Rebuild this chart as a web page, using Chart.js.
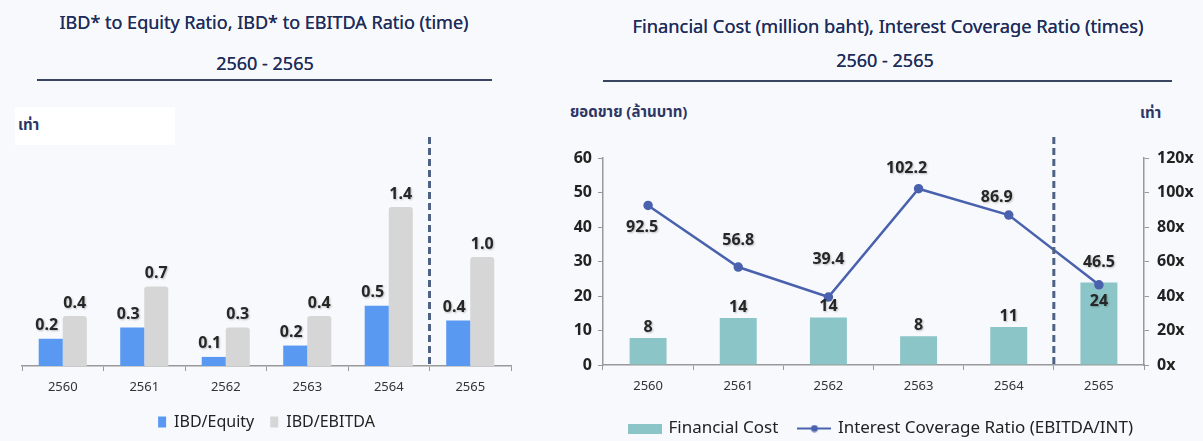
<!DOCTYPE html>
<html>
<head>
<meta charset="utf-8">
<script src="https://cdn.jsdelivr.net/npm/chart.js@4.4.1/dist/chart.umd.min.js"></script>
<style>
  body { margin: 0; width: 1203px; height: 441px; background: #f7f9fc; position: relative; overflow: hidden;
         font-family: "Noto Sans", "Noto Sans Thai", "DejaVu Sans", sans-serif; }
  .txt { position: absolute; transform: translate(-50%, -50%); white-space: nowrap; color: #1f2d5a; font-size: 18px; font-weight: 400;
         text-shadow: 0 0 0.4px #1f2d5a; }
  .lbl { position: absolute; white-space: nowrap; color: #2b3566; font-size: 15px; font-weight: 700; transform: translateY(-50%); }
  .rule { position: absolute; height: 1.5px; background: #3a4562; }
  .box { position: absolute; background: #fff; }
  canvas { position: absolute; }
</style>
</head>
<body>
<div class="txt" style="left:264px;top:22px">IBD* to Equity Ratio, IBD* to EBITDA Ratio (time)</div>
<div class="txt" style="left:265px;top:63px">2560 - 2565</div>
<div class="rule" style="left:37px;top:79px;width:455px"></div>

<div class="txt" style="left:888px;top:25px;font-size:18.3px">Financial Cost (million baht), Interest Coverage Ratio (times)</div>
<div class="txt" style="left:885px;top:60px">2560 - 2565</div>
<div class="rule" style="left:603px;top:80px;width:569px"></div>

<div class="box" style="left:15px;top:107px;width:160px;height:38px"></div>
<div class="lbl" style="left:18px;top:125px">เท่า</div>
<div class="lbl" style="left:570px;top:112px">ยอดขาย (ล้านบาท)</div>
<div class="lbl" style="left:1140px;top:113px">เท่า</div>

<div style="position:absolute;left:0;top:90px;width:560px;height:351px"><canvas id="left"></canvas></div>
<div style="position:absolute;left:560px;top:90px;width:643px;height:357px"><canvas id="right"></canvas></div>

<script>
const years = ['2560', '2561', '2562', '2563', '2564', '2565'];
const ibdEquity = [0.24, 0.34, 0.08, 0.18, 0.53, 0.40];
const ibdEbitda = [0.44, 0.70, 0.34, 0.44, 1.40, 0.96];
const financialCost = [7.8, 13.6, 13.8, 8.3, 11.0, 23.9];
const coverageRatio = [92.5, 56.8, 39.4, 102.2, 86.9, 46.5];

Chart.defaults.font.family = '"Noto Sans", "DejaVu Sans", sans-serif';
Chart.defaults.color = '#333';
Chart.defaults.animation = false;

// labels drawn above the bars / points, offsets per dataset
function valueLabels(sets) {
  return {
    id: 'valueLabels',
    afterDatasetsDraw(chart) {
      const ctx = chart.ctx;
      ctx.save();
      ctx.font = 'bold 16px "Noto Sans", sans-serif';
      ctx.fillStyle = '#262626';
      ctx.textAlign = 'center';
      ctx.textBaseline = 'middle';
      ctx.shadowColor = 'rgba(0,0,0,0.25)';
      ctx.shadowBlur = 2;
      ctx.shadowOffsetX = 1;
      ctx.shadowOffsetY = 1;
      chart.data.datasets.forEach((ds, di) => {
        const s = sets[di];
        chart.getDatasetMeta(di).data.forEach((el, i) => {
          const off = s.offsets ? s.offsets[i] : s.offset;
          ctx.fillText(ds.data[i].toFixed(s.decimals), el.x + off[0], el.y + off[1]);
        });
      });
      ctx.restore();
    }
  };
}

// dashed separator between 2564 and 2565
const divider = {
  id: 'divider',
  afterDatasetsDraw(chart) {
    const x = chart.scales.x;
    const px = (x.getPixelForValue(4) + x.getPixelForValue(5)) / 2;
    const ctx = chart.ctx;
    ctx.save();
    ctx.strokeStyle = '#4f6286';
    ctx.lineWidth = 3;
    ctx.setLineDash([7, 4]);
    ctx.beginPath();
    ctx.moveTo(px, 47);
    ctx.lineTo(px, chart.chartArea.bottom);
    ctx.stroke();
    ctx.restore();
  }
};

const xAxis = (h) => ({
  grid: { display: true, drawOnChartArea: false, offset: true, tickLength: 5, color: '#999' },
  border: { color: '#999', width: 1.5 },
  ticks: { font: { size: 13 }, color: '#333', padding: 8 },
  afterFit: s => { s.height = h; }
});

new Chart(document.getElementById('left'), {
  type: 'bar',
  data: {
    labels: years,
    datasets: [
      { label: 'IBD/Equity', data: ibdEquity, backgroundColor: '#5a99f2',
        categoryPercentage: 0.59, barPercentage: 1.0 },
      { label: 'IBD/EBITDA', data: ibdEbitda, backgroundColor: '#d6d6d6',
        categoryPercentage: 0.59, barPercentage: 1.0, borderRadius: { topLeft: 3, topRight: 3 } }
    ]
  },
  options: {
    responsive: true,
    maintainAspectRatio: false,
    layout: { padding: { left: 22, right: 49, top: 49, bottom: 1 } },
    scales: {
      x: xAxis(32),
      y: { display: false, min: 0, max: 2.0 }
    },
    plugins: {
      tooltip: { enabled: false },
      legend: {
        position: 'bottom',
        labels: { boxWidth: 8, boxHeight: 11, padding: 16, color: '#222', font: { size: 16 } }
      }
    }
  },
  plugins: [divider, valueLabels([
    { decimals: 1, offset: [-4, -13] },
    { decimals: 1, offset: [0, -13] }
  ])]
});

// legend icons
const barIcon = document.createElement('canvas');
barIcon.width = 34; barIcon.height = 10;
(c => { c.fillStyle = '#8cc5c7'; c.fillRect(0, 0, 34, 10); })(barIcon.getContext('2d'));
const lineIcon = document.createElement('canvas');
lineIcon.width = 34; lineIcon.height = 8;
(c => {
  c.strokeStyle = '#4a62ae'; c.lineWidth = 2;
  c.beginPath(); c.moveTo(0, 4); c.lineTo(34, 4); c.stroke();
  c.fillStyle = '#4a62ae'; c.beginPath(); c.arc(17, 4, 3.5, 0, Math.PI * 2); c.fill();
})(lineIcon.getContext('2d'));

new Chart(document.getElementById('right'), {
  type: 'bar',
  data: {
    labels: years,
    datasets: [
      { type: 'bar', label: 'Financial Cost', data: financialCost, backgroundColor: '#8cc5c7',
        categoryPercentage: 1.0, barPercentage: 0.41, yAxisID: 'y', order: 1 },
      { type: 'line', label: 'Interest Coverage Ratio (EBITDA/INT)', data: coverageRatio,
        borderColor: '#4a62ae', backgroundColor: '#4a62ae', borderWidth: 2.5,
        pointRadius: 3.5, pointBackgroundColor: '#4a62ae', tension: 0, yAxisID: 'y1', order: 0 }
    ]
  },
  options: {
    responsive: true,
    maintainAspectRatio: false,
    layout: { padding: { left: 0, right: 0, top: 68, bottom: 0 } },
    scales: {
      x: xAxis(34),
      y: {
        position: 'left', min: 0, max: 60,
        ticks: { stepSize: 10, font: { size: 16, weight: 'bold' }, color: '#222', padding: 6 },
        grid: { drawOnChartArea: false, tickLength: 5, color: '#999' },
        border: { color: '#999', width: 1.5 },
        afterFit: s => { s.width = 43; }
      },
      y1: {
        position: 'right', min: 0, max: 120,
        ticks: { stepSize: 20, callback: v => v + 'x', font: { size: 16, weight: 'bold' }, color: '#222', padding: 8 },
        grid: { drawOnChartArea: false, tickLength: 5, color: '#999' },
        border: { color: '#999', width: 1.5 },
        afterFit: s => { s.width = 59; }
      }
    },
    plugins: {
      tooltip: { enabled: false },
      legend: {
        position: 'bottom',
        labels: {
          usePointStyle: true, pointStyleWidth: 30, boxHeight: 12, padding: 21,
          color: '#222', font: { size: 17 },
          generateLabels(chart) {
            const items = Chart.defaults.plugins.legend.labels.generateLabels(chart);
            items.sort((a, b) => a.datasetIndex - b.datasetIndex);
            items.forEach(it => { it.pointStyle = it.datasetIndex === 0 ? barIcon : lineIcon; });
            return items;
          }
        }
      }
    }
  },
  plugins: [divider, valueLabels([
    { decimals: 0, offsets: [[0, -11], [0, -11], [0, -11], [0, -11], [0, -11], [0, 19]] },
    { decimals: 1, offsets: [[-6, 22], [0, -27], [0, -38], [-12, -20], [-12, -18], [0, -22]] }
  ])]
});
</script>
</body>
</html>
